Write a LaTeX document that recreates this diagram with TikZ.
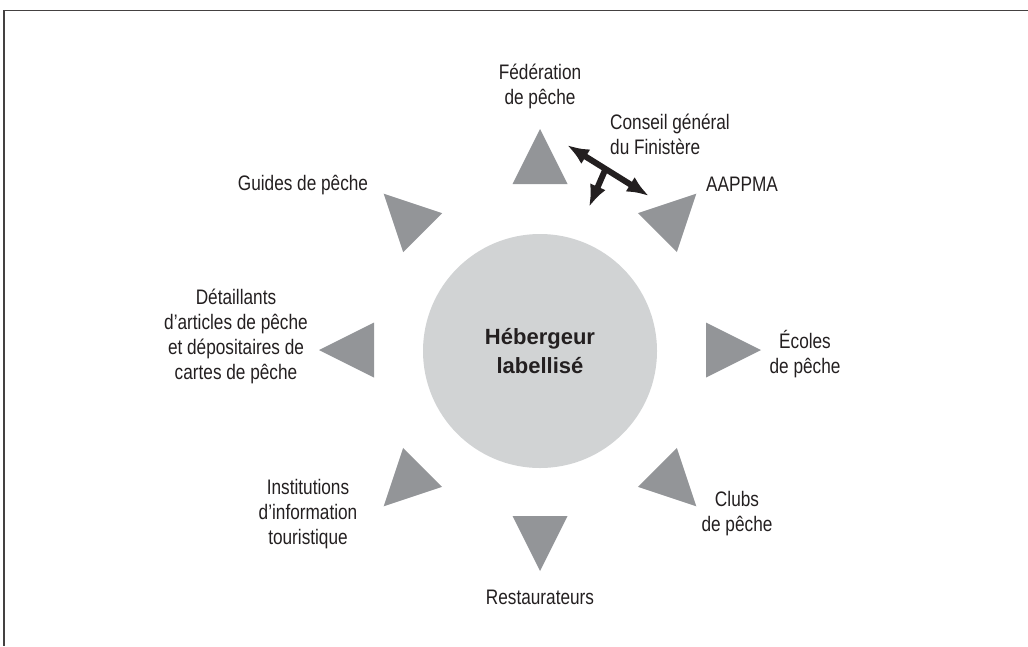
\documentclass[tikz,border=0pt]{standalone}
\usepackage{fontspec}
\setmainfont{Liberation Sans}[FakeStretch=0.82]
\newfontfamily\hubfont{Liberation Sans}
\usetikzlibrary{arrows.meta,calc}
\definecolor{tri}{HTML}{939598}
\definecolor{hubc}{HTML}{D1D3D4}
\definecolor{ink}{HTML}{231F20}
\begin{document}
\begin{tikzpicture}[x=1pt,y=-1pt,
  lab/.style={font=\fontsize{21}{25}\selectfont, text=ink, align=center, inner sep=0pt},
  link/.style={line width=6pt, draw=ink, >={Latex[length=22pt,width=17pt]}}]
\useasboundingbox (0,0) rectangle (1028,646);
\draw[line width=1.3pt, draw=ink!85] (1028,10.5) -- (4,10.5) -- (4,646);
\node[circle, fill=hubc, minimum size=234pt, inner sep=0pt, text=ink, align=center,
      font=\hubfont\bfseries\fontsize{22}{29}\selectfont] (hub) at (540,351) {Hébergeur\\labellisé};
\foreach \a in {-90,-45,0,45,90,135,180,225}{
  \fill[tri] ($(540,350)+(\a:221)$) -- ($(540,350)+(\a:166)+(\a+90:27.5)$)
     -- ($(540,350)+(\a:166)+(\a-90:27.5)$) -- cycle;
}
\node[lab] (fed) at (540,86) {Fédération\\de pêche};
\node[lab, align=left, anchor=west] (cg) at (610,134) {Conseil général\\du Finistère};
\node[lab, anchor=west] (aap) at (706,184) {AAPPMA};
\node[lab] (gui) at (303,185) {Guides de pêche};
\node[lab] (det) at (236,336) {Détaillants\\d’articles de pêche\\et dépositaires de\\cartes de pêche};
\node[lab] (eco) at (805,354) {Écoles\\de pêche};
\node[lab] (clu) at (737,514) {Clubs\\de pêche};
\node[lab] (res) at (540,597) {Restaurateurs};
\node[lab] (ins) at (308,514) {Institutions\\d’information\\touristique};
\coordinate (a1) at (567,145);
\coordinate (a2) at (649,196);
\coordinate (a3) at (589,207);
\coordinate (am) at ($(a1)!0.47!(a2)$);
\draw[link, <->] (a1) -- (a2);
\draw[link, ->] (am) -- (a3);
\end{tikzpicture}
\end{document}
